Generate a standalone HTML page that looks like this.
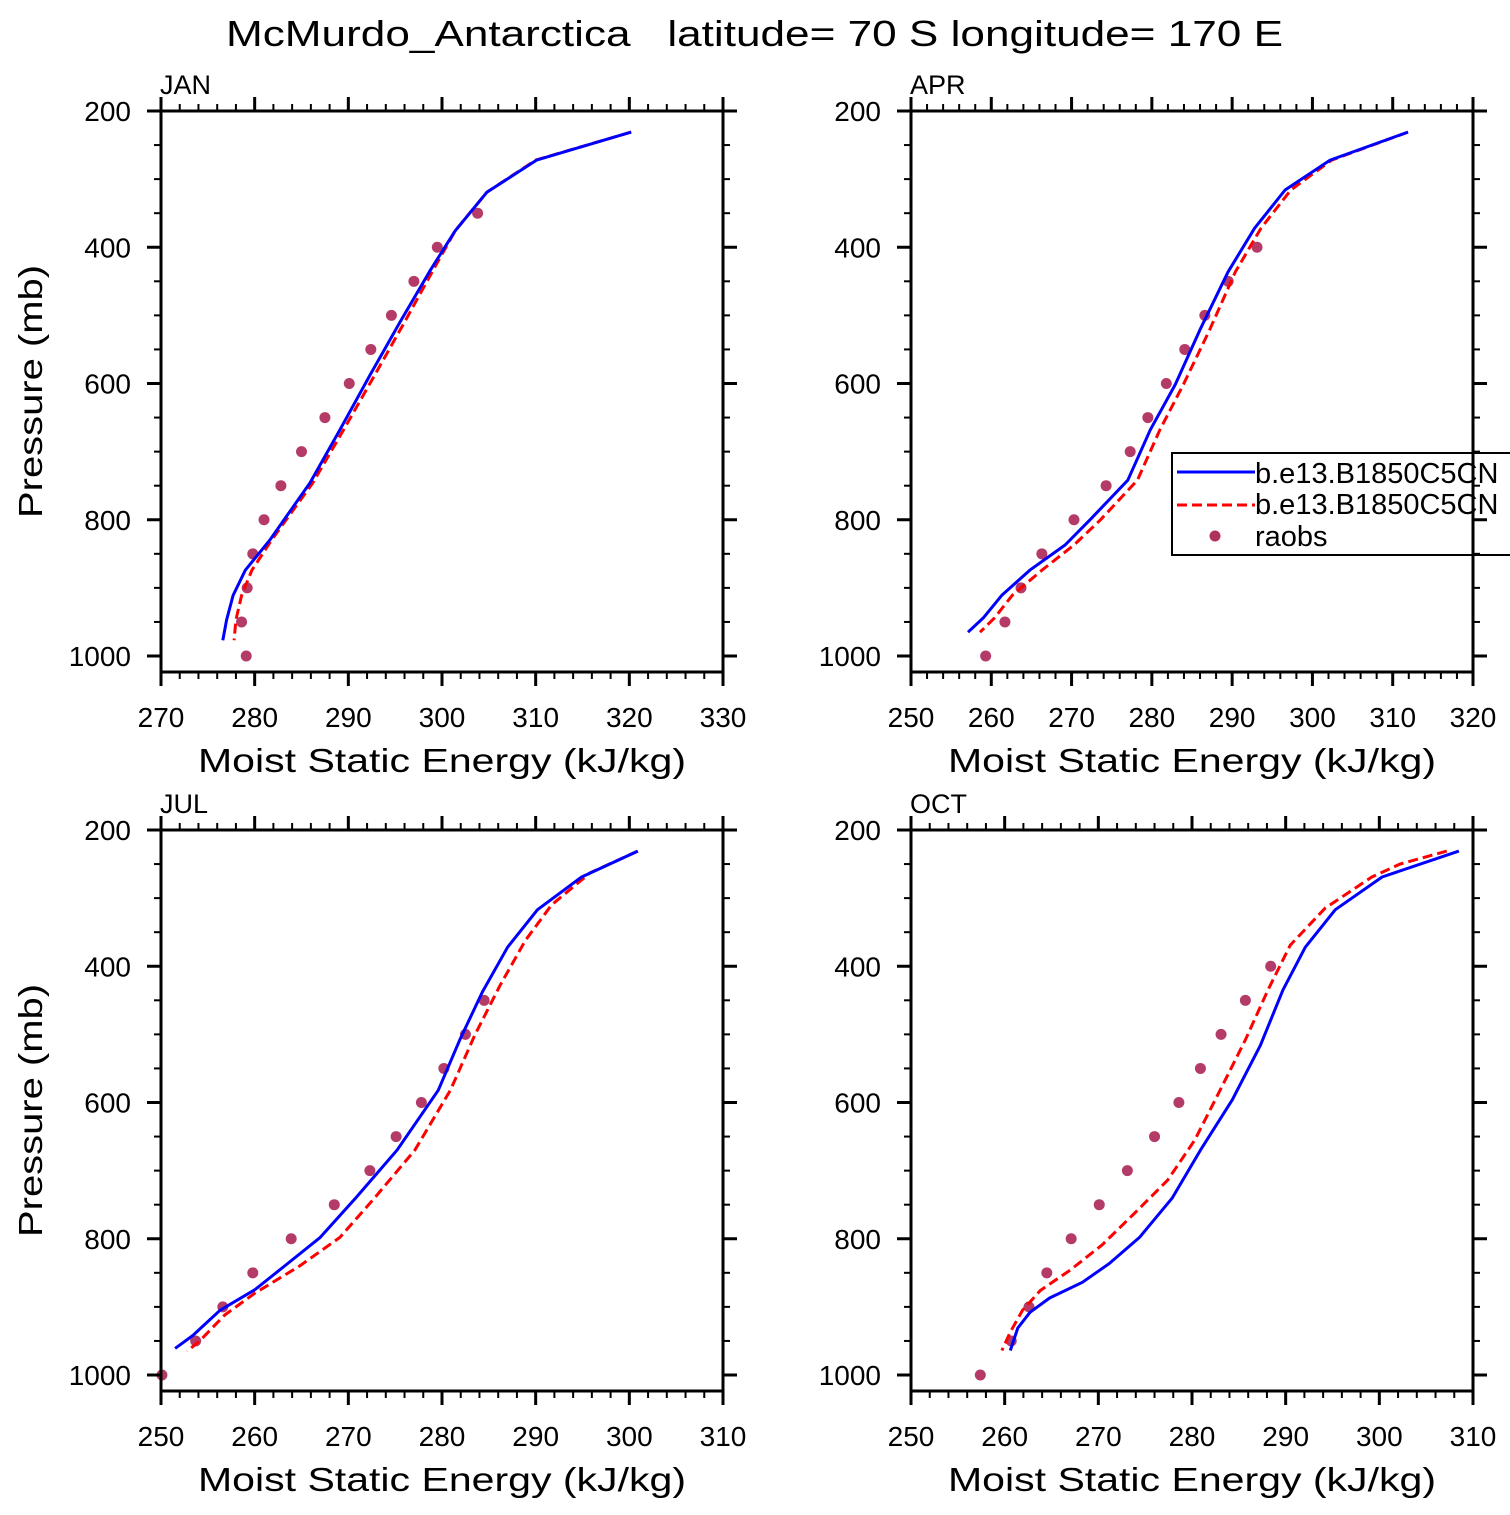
<!DOCTYPE html>
<html><head><meta charset="utf-8"><style>
html,body{margin:0;padding:0;background:#fff;}
svg text{font-family:"Liberation Sans",sans-serif;fill:#000;}
</style></head><body>
<svg id="chart" xmlns="http://www.w3.org/2000/svg" width="1510" height="1510" viewBox="0 0 1510 1510">
<rect width="1510" height="1510" fill="#fff"/>
<text x="226" y="46" font-size="36" textLength="1057" lengthAdjust="spacingAndGlyphs" xml:space="preserve">McMurdo_Antarctica   latitude= 70 S longitude= 170 E</text>
</svg>
<script>
// ---- data ----
const raobsLevels = [350,400,450,500,550,600,650,700,750,800,850,900,950,1000];
const janBlueP = [231,272,319,376,435,510,588,668,746,830,874,911,947,977];
const janBlueX = [320.2,310.1,304.8,301.4,298.7,295.5,292.3,289.1,285.9,281.6,279.0,277.7,277.0,276.6];
const janRedP = [231,272,319,376,435,510,588,668,746,830,874,911,947,977];
const janRedX = [320.2,310.0,304.8,301.4,299.0,296.0,292.8,289.5,286.2,281.8,279.7,278.6,278.0,277.8];
const janObs = [303.8,299.5,297.0,294.6,292.4,290.1,287.5,285.0,282.8,281.0,279.8,279.2,278.6,279.1];

const aprBlueP = [231,272,316,372,436,521,602,668,742,800,837,874,911,944,965];
const aprBlueX = [311.9,302.2,296.6,292.8,289.5,286.0,282.9,279.8,277.0,272.3,269.2,264.8,261.3,259.0,257.1];
const aprRedP = [231,272,316,372,436,521,602,668,742,800,837,874,911,944,965];
const aprRedX = [311.9,302.4,297.3,293.6,290.4,287.2,283.9,281.0,278.2,273.6,270.3,266.3,262.6,260.4,258.6];
const aprObs = [null,293.1,289.5,286.6,284.1,281.8,279.5,277.3,274.3,270.3,266.3,263.7,261.7,259.3];

const julBlueP = [231,269,317,372,438,508,582,670,740,798,840,875,905,942,961];
const julBlueX = [300.9,294.9,290.2,287.0,284.3,281.9,279.6,275.2,270.8,267.0,263.2,260.0,256.3,253.4,251.5];
const julRedP = [231,263,310,362,428,501,582,670,740,798,840,880,912,949,965];
const julRedX = [300.9,295.8,291.7,288.9,286.2,283.5,280.9,277.1,272.8,269.1,264.8,260.0,256.8,254.2,252.8];
const julObs = [null,null,284.5,282.5,280.2,277.8,275.1,272.3,268.5,263.9,259.8,256.6,253.7,250.1];

const octBlueP = [231,269,317,372,435,516,596,670,740,798,836,864,887,908,931,964];
const octBlueX = [308.5,300.3,295.3,292.1,289.7,287.3,284.3,280.9,277.9,274.4,271.2,268.3,264.8,262.7,261.4,260.6];
const octRedP = [231,250,269,315,369,435,508,582,655,714,758,809,846,876,905,937,964];
const octRedX = [307.2,302.2,299.2,294.2,290.5,288.1,285.7,283.0,280.3,277.4,274.2,270.4,267.0,263.8,261.9,260.6,259.7];
const octObs = [null,288.4,285.7,283.1,280.9,278.6,276.0,273.1,270.1,267.1,264.5,262.6,260.7,257.4];

const yTicks = [200,400,600,800,1000];
const xTicksJan = [270,280,290,300,310,320,330];
const xTicksApr = [250,260,270,280,290,300,310,320];
const xTicksJul = [250,260,270,280,290,300,310];
const xTicksOct = [250,260,270,280,290,300,310];
const legendLabels = ["b.e13.B1850C5CN","b.e13.B1850C5CN","raobs"];

// ---- drawing ----
const svg = document.getElementById('chart');
const NS = 'http://www.w3.org/2000/svg';
function mk(tag, attrs){const e=document.createElementNS(NS,tag);for(const k in attrs)e.setAttribute(k,attrs[k]);return e;}

function panel(name, left, top, xmin, xmax, xticks, blueX, blueP, redX, redP, obs, legend, ytitle){
  const W=562, H=561;
  const g = mk('g',{});
  
  
  svg.appendChild(g);
  const sx = v => left + (v-xmin)/(xmax-xmin)*W;
  const sy = p => top + (p-200)*0.68125;
  if(legend){
    const lg = mk('g',{});
    
    
    g.appendChild(lg);
    lg.appendChild(mk('rect',{x:1172,y:453,width:360,height:102,fill:'#fff',stroke:'#000','stroke-width':2}));
    const l1=mk('line',{x1:1177,y1:472,x2:1255,y2:472,stroke:'#0000ff','stroke-width':3});
    
    
    lg.appendChild(l1);
    const l2=mk('line',{x1:1177,y1:505,x2:1255,y2:505,stroke:'#ff0000','stroke-width':3,'stroke-dasharray':'10 5'});
    
    
    lg.appendChild(l2);
    const c=mk('circle',{cx:1215,cy:536,r:5.5,fill:'#b03060'});
    
    
    lg.appendChild(c);
    const ys=[483,514,546];
    legendLabels.forEach((t,i)=>{const tx=mk('text',{x:1255,y:ys[i],'font-size':29});tx.textContent=t;
      
      
      lg.appendChild(tx);});
  }
  raobsLevels.forEach((p,i)=>{ if(obs[i]==null) return;
    const c=mk('circle',{cx:sx(obs[i]),cy:sy(p),r:5.5,fill:'#b03060','fill-opacity':0.95});
    
    
    g.appendChild(c);});
  const pts=(X,P)=>X.map((v,i)=>sx(v).toFixed(1)+','+sy(P[i]).toFixed(1)).join(' ');
  const red=mk('polyline',{points:pts(redX,redP),fill:'none',stroke:'#ff0000','stroke-width':3,'stroke-dasharray':'10 5','stroke-linejoin':'round'});
  
  
  g.appendChild(red);
  const blue=mk('polyline',{points:pts(blueX,blueP),fill:'none',stroke:'#0000ff','stroke-width':3,'stroke-linejoin':'round'});
  
  
  g.appendChild(blue);
  const fr=mk('rect',{x:left,y:top,width:W,height:H,fill:'none',stroke:'#000','stroke-width':3});
  
  
  g.appendChild(fr);
  for(let v=xmin; v<=xmax+0.001; v+=2){
    const major = Math.abs((v-xmin)%10)<0.01 || Math.abs((v-xmin)%10-10)<0.01;
    const L = major?14:7, w = major?3:2;
    g.appendChild(mk('line',{x1:sx(v),y1:top+H,x2:sx(v),y2:top+H+L,stroke:'#000','stroke-width':w}));
    g.appendChild(mk('line',{x1:sx(v),y1:top,x2:sx(v),y2:top-L,stroke:'#000','stroke-width':w}));
  }
  xticks.forEach(v=>{const t=mk('text',{x:sx(v),y:top+H+55,'font-size':28,'text-anchor':'middle'});t.textContent=v;
    
    
    g.appendChild(t);});
  for(let p=200;p<=1000;p+=50){
    const major = p%200===0; const L=major?14:7, w=major?3:2;
    g.appendChild(mk('line',{x1:left,y1:sy(p),x2:left-L,y2:sy(p),stroke:'#000','stroke-width':w}));
    g.appendChild(mk('line',{x1:left+W,y1:sy(p),x2:left+W+L,y2:sy(p),stroke:'#000','stroke-width':w}));
  }
  yTicks.forEach(p=>{const t=mk('text',{x:left-30,y:sy(p)+10,'font-size':28,'text-anchor':'end'});t.textContent=p;
    
    
    g.appendChild(t);});
  const xt=mk('text',{x:left+W/2,y:top+H+100,'font-size':33,'text-anchor':'middle',textLength:488,lengthAdjust:'spacingAndGlyphs'});
  xt.textContent='Moist Static Energy (kJ/kg)';
  
  
  g.appendChild(xt);
  if(ytitle){
    const yt=mk('text',{x:0,y:0,'font-size':33,'text-anchor':'middle',textLength:253,lengthAdjust:'spacingAndGlyphs',transform:`translate(${left-119},${top+H/2}) rotate(-90)`});
    yt.textContent='Pressure (mb)';
    
    
    g.appendChild(yt);
  }
  const pl=mk('text',{x:left-1,y:top-17,'font-size':27});
  pl.textContent=name.toUpperCase();
  
  
  g.appendChild(pl);
}
panel('jan',161,111,270,330,xTicksJan,janBlueX,janBlueP,janRedX,janRedP,janObs,false,true);
panel('apr',911,111,250,320,xTicksApr,aprBlueX,aprBlueP,aprRedX,aprRedP,aprObs,true,false);
panel('jul',161,830,250,310,xTicksJul,julBlueX,julBlueP,julRedX,julRedP,julObs,false,true);
panel('oct',911,830,250,310,xTicksOct,octBlueX,octBlueP,octRedX,octRedP,octObs,false,false);
</script>
</body></html>
